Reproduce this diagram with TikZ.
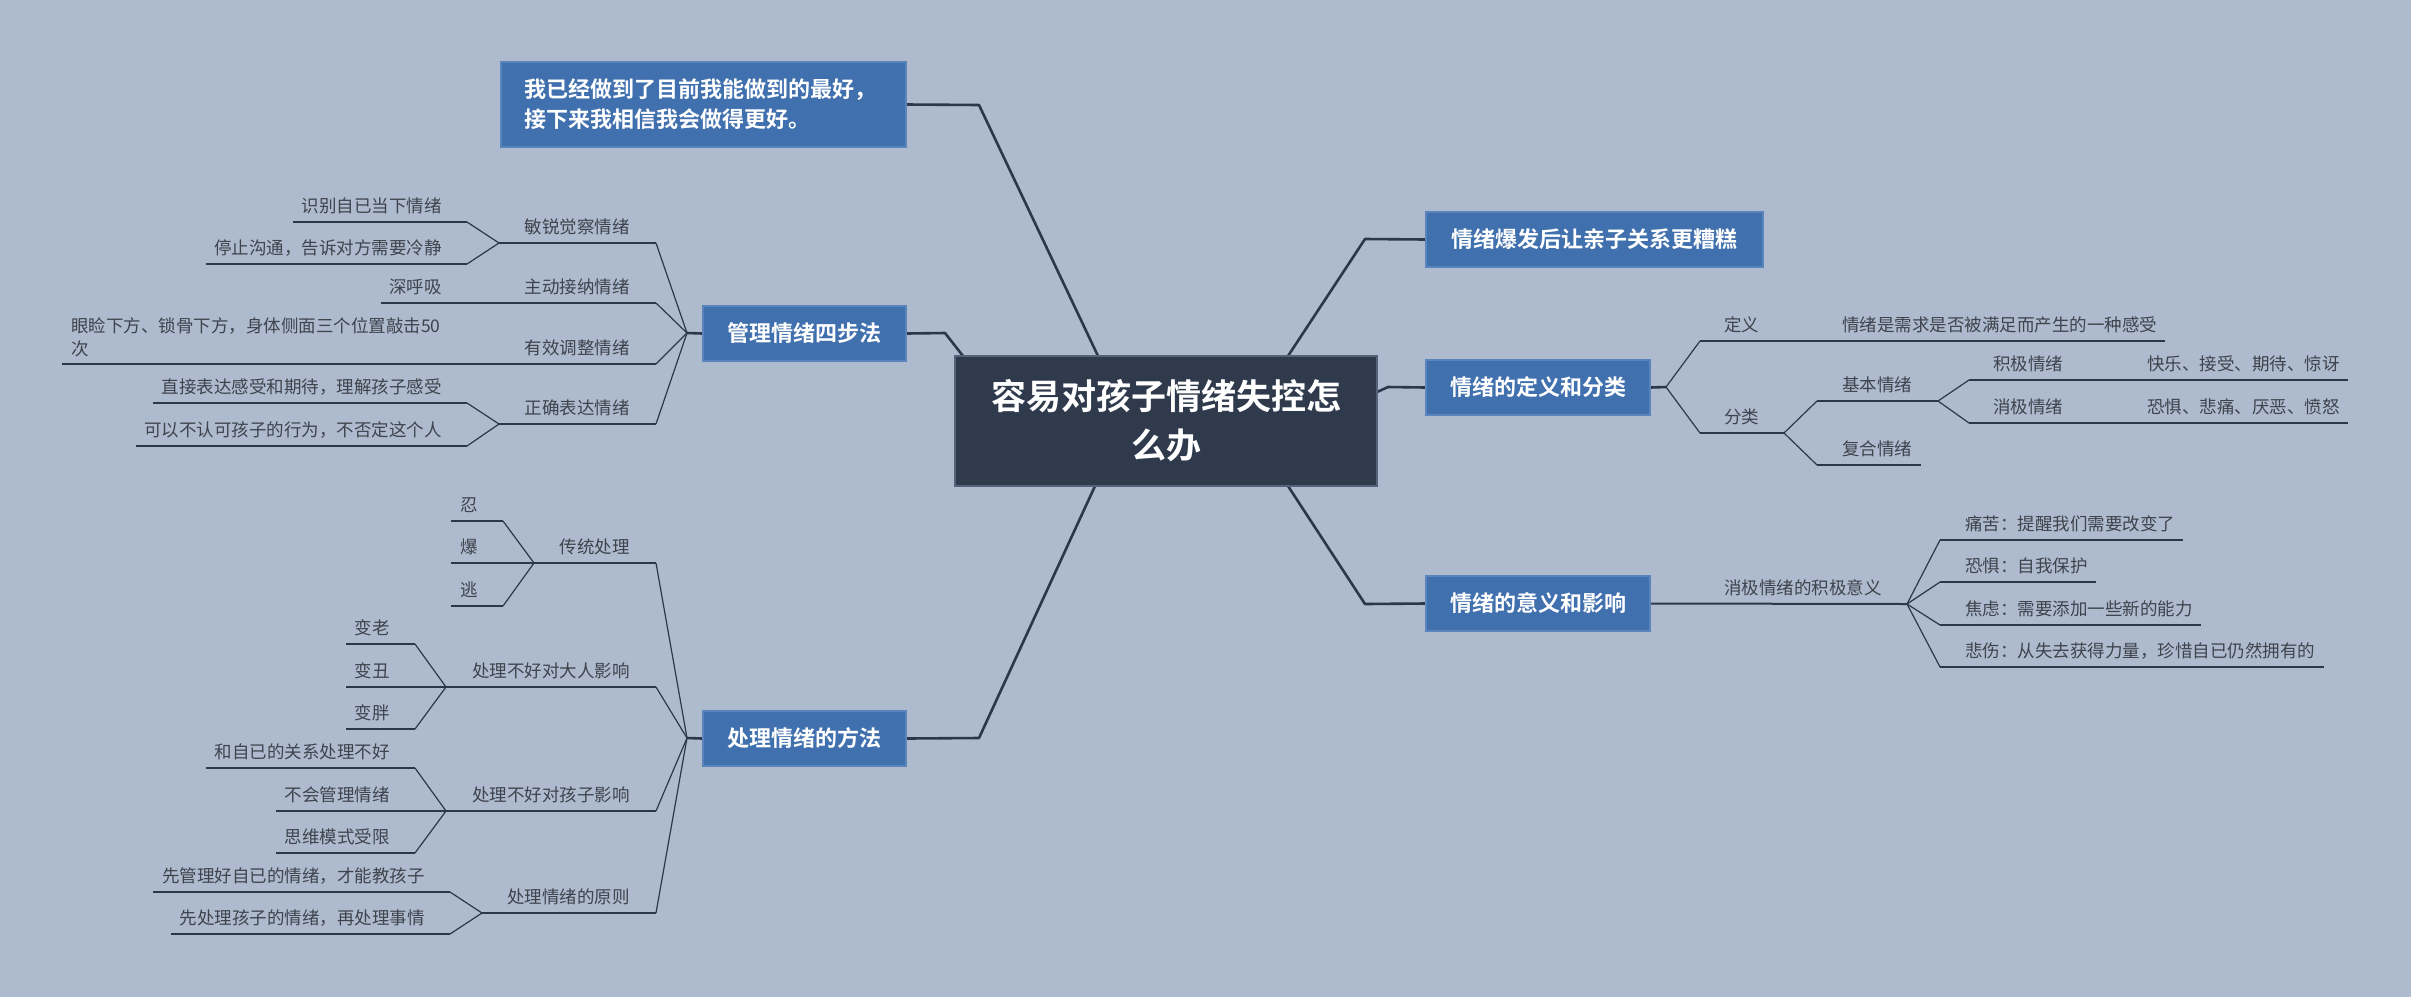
\documentclass[tikz,border=0pt]{standalone}
\usepackage{fontspec}
\newfontfamily\cjk{Noto Sans CJK SC}
\newfontfamily\cjkb{Noto Sans CJK SC Bold}
\usetikzlibrary{backgrounds}
\definecolor{bgc}{HTML}{AEBBCF}
\definecolor{boxc}{HTML}{4170AE}
\definecolor{boxe}{HTML}{5B84BC}
\definecolor{centc}{HTML}{2F3B4C}
\definecolor{cente}{HTML}{56627A}
\definecolor{linec}{HTML}{2C3849}
\definecolor{txtc}{HTML}{3E434C}
\tikzset{
  lbl/.style={font=\cjk\fontsize{17.5pt}{21pt}\selectfont, text=txtc, inner sep=0pt},
  topic/.style={fill=boxc, draw=boxe, line width=1.2pt, text=white, inner sep=0pt,
    font=\cjkb\fontsize{22pt}{26pt}\selectfont, minimum height=55pt},
  mainln/.style={draw=linec, line width=2.6pt, line join=round},
  under/.style={draw=linec, line width=2pt},
  fan/.style={draw=linec, line width=1.2pt},
}
\begin{document}
\begin{tikzpicture}[x=1pt,y=-1pt]
\useasboundingbox (0,0) rectangle (2411,997);

% ---------- boxes ----------
\node[fill=centc, draw=cente, line width=1.2pt, minimum width=422pt, minimum height=130pt,
  inner sep=0pt, align=center, text=white, font=\cjkb\fontsize{35pt}{49pt}\selectfont]
  (ctr) at (1166,421) {容易对孩子情绪失控怎\\么办};
\node[topic, minimum width=405pt, minimum height=85pt, text width=359pt, align=left,
  font=\cjkb\fontsize{22pt}{30pt}\selectfont]
  (t0) at (703.5,104.5) {我已经做到了目前我能做到的最好，\\接下来我相信我会做得更好。};
\node[topic, minimum width=203pt] (m2) at (804.5,333.5) {管理情绪四步法};
\node[topic, minimum width=203pt] (p) at (804.5,738.5) {处理情绪的方法};
\node[topic, minimum width=337pt] (r1) at (1594.5,239.5) {情绪爆发后让亲子关系更糟糕};
\node[topic, minimum width=224pt] (r2) at (1538,387.5) {情绪的定义和分类};
\node[topic, minimum width=224pt] (r3) at (1538,603.5) {情绪的意义和影响};

% ---------- labels: 管理情绪四步法 ----------
\node[lbl, anchor=base east] (a1) at (630,233) {敏锐觉察情绪};
\node[lbl, anchor=base east] (a1a) at (442,212) {识别自已当下情绪};
\node[lbl, anchor=base east] (a1b) at (442,254) {停止沟通，告诉对方需要冷静};
\node[lbl, anchor=base east] (a2) at (630,293) {主动接纳情绪};
\node[lbl, anchor=base east] (a2a) at (442,293) {深呼吸};
\node[lbl, anchor=base east] (a3) at (630,354) {有效调整情绪};
\node[lbl, anchor=south west, align=left, font=\cjk\fontsize{17.5pt}{23pt}\selectfont]
  (a3a) at (71,357) {眼睑下方、锁骨下方，身体侧面三个位置敲击50\\次};
\node[lbl, anchor=base east] (a4) at (630,414) {正确表达情绪};
\node[lbl, anchor=base east] (a4a) at (442,393) {直接表达感受和期待，理解孩子感受};
\node[lbl, anchor=base east] (a4b) at (442,436) {可以不认可孩子的行为，不否定这个人};

% ---------- labels: 处理情绪的方法 ----------
\node[lbl, anchor=base east] (b1) at (630,553) {传统处理};
\node[lbl, anchor=base east] (b1a) at (478,511) {忍};
\node[lbl, anchor=base east] (b1b) at (478,553) {爆};
\node[lbl, anchor=base east] (b1c) at (478,596) {逃};
\node[lbl, anchor=base east] (b2) at (630,677) {处理不好对大人影响};
\node[lbl, anchor=base east] (b2a) at (390,634) {变老};
\node[lbl, anchor=base east] (b2b) at (390,677) {变丑};
\node[lbl, anchor=base east] (b2c) at (390,719) {变胖};
\node[lbl, anchor=base east] (b3) at (630,801) {处理不好对孩子影响};
\node[lbl, anchor=base east] (b3a) at (390,758) {和自已的关系处理不好};
\node[lbl, anchor=base east] (b3b) at (390,801) {不会管理情绪};
\node[lbl, anchor=base east] (b3c) at (390,843) {思维模式受限};
\node[lbl, anchor=base east] (b4) at (630,903) {处理情绪的原则};
\node[lbl, anchor=base east] (b4a) at (425,882) {先管理好自已的情绪，才能教孩子};
\node[lbl, anchor=base east] (b4b) at (425,924) {先处理孩子的情绪，再处理事情};

% ---------- labels: right side ----------
\node[lbl, anchor=base west] (d1) at (1724,331) {定义};
\node[lbl, anchor=base west] (d1a) at (1842,331) {情绪是需求是否被满足而产生的一种感受};
\node[lbl, anchor=base west] (d2) at (1724,423) {分类};
\node[lbl, anchor=base west] (d2a) at (1842,391) {基本情绪};
\node[lbl, anchor=base west] (d2a1) at (1993,370) {积极情绪};
\node[lbl, anchor=base west] (d2a1x) at (2147,370) {快乐、接受、期待、惊讶};
\node[lbl, anchor=base west] (d2a2) at (1993,413) {消极情绪};
\node[lbl, anchor=base west] (d2a2x) at (2147,413) {恐惧、悲痛、厌恶、愤怒};
\node[lbl, anchor=base west] (d2b) at (1842,455) {复合情绪};
\node[lbl, anchor=base west] (e1) at (1724,594) {消极情绪的积极意义};
\node[lbl, anchor=base west] (e1a) at (1965,530) {痛苦：提醒我们需要改变了};
\node[lbl, anchor=base west] (e1b) at (1965,572) {恐惧：自我保护};
\node[lbl, anchor=base west] (e1c) at (1965,615) {焦虑：需要添加一些新的能力};
\node[lbl, anchor=base west] (e1d) at (1965,657) {悲伤：从失去获得力量，珍惜自已仍然拥有的};

% ---------- coordinates ----------
\coordinate (cTL) at (963,356);
\coordinate (cT1) at (1098,356);
\coordinate (cT2) at (1288,356);
\coordinate (cB1) at (1095,486);
\coordinate (cB2) at (1288,486);
\coordinate (cR) at (1377,392);
\coordinate (k0) at (979,105);
\coordinate (k1) at (945,333);
\coordinate (k2) at (979,738);
\coordinate (k3) at (1365,239);
\coordinate (k4) at (1388,387);
\coordinate (k5) at (1365,604);

\coordinate (jm) at (687,333);
\coordinate (a1L) at (499,243); \coordinate (a1R) at (656,243);
\coordinate (a1aL) at (293,222); \coordinate (a1aR) at (467,222);
\coordinate (a1bL) at (206,264); \coordinate (a1bR) at (467,264);
\coordinate (a2L) at (499,303); \coordinate (a2R) at (656,303);
\coordinate (a2aL) at (381,303);
\coordinate (a3L) at (499,364); \coordinate (a3R) at (656,364);
\coordinate (a3aL) at (62,364);
\coordinate (a4L) at (499,424); \coordinate (a4R) at (656,424);
\coordinate (a4aL) at (153,403); \coordinate (a4aR) at (467,403);
\coordinate (a4bL) at (136,446); \coordinate (a4bR) at (467,446);

\coordinate (jp) at (687,738);
\coordinate (b1L) at (534,563); \coordinate (b1R) at (656,563);
\coordinate (b1aL) at (451,521); \coordinate (b1aR) at (503,521);
\coordinate (b1bL) at (451,563);
\coordinate (b1cL) at (451,606); \coordinate (b1cR) at (503,606);
\coordinate (b2L) at (446,687); \coordinate (b2R) at (656,687);
\coordinate (b2aL) at (346,644); \coordinate (b2aR) at (415,644);
\coordinate (b2bL) at (346,687);
\coordinate (b2cL) at (346,729); \coordinate (b2cR) at (415,729);
\coordinate (b3L) at (446,811); \coordinate (b3R) at (656,811);
\coordinate (b3aL) at (206,768); \coordinate (b3aR) at (415,768);
\coordinate (b3bL) at (276,811);
\coordinate (b3cL) at (276,853); \coordinate (b3cR) at (415,853);
\coordinate (b4L) at (482,913); \coordinate (b4R) at (656,913);
\coordinate (b4aL) at (153,892); \coordinate (b4aR) at (450,892);
\coordinate (b4bL) at (171,934); \coordinate (b4bR) at (450,934);

\coordinate (jr) at (1666,387);
\coordinate (d1L) at (1700,341); \coordinate (d1R) at (1833,341); \coordinate (d1aR) at (2165,341);
\coordinate (d2L) at (1700,433); \coordinate (d2R) at (1784,433);
\coordinate (d2aL) at (1817,401); \coordinate (d2aR) at (1938,401);
\coordinate (d2a1L) at (1969,380); \coordinate (d2a1R) at (2123,380); \coordinate (d2a1xR) at (2348,380);
\coordinate (d2a2L) at (1969,423); \coordinate (d2a2R) at (2123,423); \coordinate (d2a2xR) at (2348,423);
\coordinate (d2bL) at (1817,465); \coordinate (d2bR) at (1921,465);
\coordinate (je) at (1907,604);
\coordinate (e1aL) at (1940,540); \coordinate (e1aR) at (2183,540);
\coordinate (e1bL) at (1940,582); \coordinate (e1bR) at (2096,582);
\coordinate (e1cL) at (1940,625); \coordinate (e1cR) at (2201,625);
\coordinate (e1dL) at (1940,667); \coordinate (e1dR) at (2324,667);

% ---------- connectors ----------
\begin{scope}[on background layer]
\fill[bgc] (0,0) rectangle (2411,997);
% main
\draw[mainln] (t0.east) -- (k0) -- (cT1);
\draw[mainln] (m2.east) -- (k1) -- (cTL);
\draw[mainln] (p.east) -- (k2) -- (cB1);
\draw[mainln] (r1.west) -- (k3) -- (cT2);
\draw[mainln] (r2.west) -- (k4) -- (cR);
\draw[mainln] (r3.west) -- (k5) -- (cB2);
% 管理情绪四步法
\draw[mainln] (m2.west) -- (jm);
\draw[fan] (jm) -- (a1R); \draw[fan] (jm) -- (a2R); \draw[fan] (jm) -- (a3R); \draw[fan] (jm) -- (a4R);
\draw[under] (a1L) -- (a1R);
\draw[under] (a1aL) -- (a1aR); \draw[fan] (a1aR) -- (a1L);
\draw[under] (a1bL) -- (a1bR); \draw[fan] (a1bR) -- (a1L);
\draw[under] (a2aL) -- (a2L) -- (a2R);
\draw[under] (a3aL) -- (a3L) -- (a3R);
\draw[under] (a4L) -- (a4R);
\draw[under] (a4aL) -- (a4aR); \draw[fan] (a4aR) -- (a4L);
\draw[under] (a4bL) -- (a4bR); \draw[fan] (a4bR) -- (a4L);
% 处理情绪的方法
\draw[mainln] (p.west) -- (jp);
\draw[fan] (jp) -- (b1R); \draw[fan] (jp) -- (b2R); \draw[fan] (jp) -- (b3R); \draw[fan] (jp) -- (b4R);
\draw[under] (b1L) -- (b1R);
\draw[under] (b1aL) -- (b1aR); \draw[fan] (b1aR) -- (b1L);
\draw[under] (b1bL) -- (b1L);
\draw[under] (b1cL) -- (b1cR); \draw[fan] (b1cR) -- (b1L);
\draw[under] (b2L) -- (b2R);
\draw[under] (b2aL) -- (b2aR); \draw[fan] (b2aR) -- (b2L);
\draw[under] (b2bL) -- (b2L);
\draw[under] (b2cL) -- (b2cR); \draw[fan] (b2cR) -- (b2L);
\draw[under] (b3L) -- (b3R);
\draw[under] (b3aL) -- (b3aR); \draw[fan] (b3aR) -- (b3L);
\draw[under] (b3bL) -- (b3L);
\draw[under] (b3cL) -- (b3cR); \draw[fan] (b3cR) -- (b3L);
\draw[under] (b4L) -- (b4R);
\draw[under] (b4aL) -- (b4aR); \draw[fan] (b4aR) -- (b4L);
\draw[under] (b4bL) -- (b4bR); \draw[fan] (b4bR) -- (b4L);
% 情绪的定义和分类
\draw[mainln] (r2.east) -- (jr);
\draw[fan] (jr) -- (d1L); \draw[fan] (jr) -- (d2L);
\draw[under] (d1L) -- (d1R) -- (d1aR);
\draw[under] (d2L) -- (d2R);
\draw[fan] (d2R) -- (d2aL); \draw[fan] (d2R) -- (d2bL);
\draw[under] (d2aL) -- (d2aR);
\draw[under] (d2bL) -- (d2bR);
\draw[fan] (d2aR) -- (d2a1L); \draw[fan] (d2aR) -- (d2a2L);
\draw[under] (d2a1L) -- (d2a1R) -- (d2a1xR);
\draw[under] (d2a2L) -- (d2a2R) -- (d2a2xR);
% 情绪的意义和影响
\draw[under] (r3.east) -- (je);
\draw[fan] (je) -- (e1aL); \draw[fan] (je) -- (e1bL); \draw[fan] (je) -- (e1cL); \draw[fan] (je) -- (e1dL);
\draw[under] (e1aL) -- (e1aR);
\draw[under] (e1bL) -- (e1bR);
\draw[under] (e1cL) -- (e1cR);
\draw[under] (e1dL) -- (e1dR);
\end{scope}
\end{tikzpicture}
\end{document}
